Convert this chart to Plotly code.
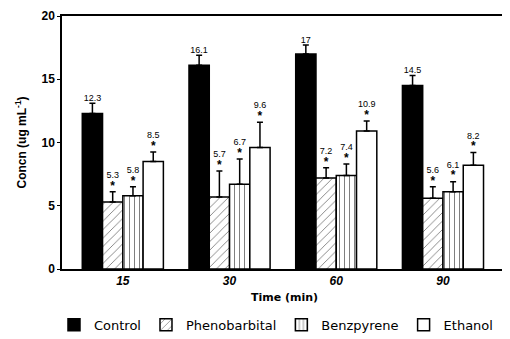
import plotly.graph_objects as go

times = ["15", "30", "60", "90"]
series = ["Control", "Phenobarbital", "Benzpyrene", "Ethanol"]
control = [12.3, 16.1, 17.0, 14.5]
phenobarbital = [5.3, 5.7, 7.2, 5.6]
benzpyrene = [5.8, 6.7, 7.4, 6.1]
ethanol = [8.5, 9.6, 10.9, 8.2]
control_err = [0.8, 0.8, 0.7, 0.8]
phenobarbital_err = [0.8, 2.05, 0.8, 0.9]
benzpyrene_err = [0.7, 2.0, 0.9, 0.8]
ethanol_err = [0.75, 2.0, 0.8, 1.0]
value_labels = {
    "Control": ["12.3", "16.1", "17", "14.5"],
    "Phenobarbital": ["5.3", "5.7", "7.2", "5.6"],
    "Benzpyrene": ["5.8", "6.7", "7.4", "6.1"],
    "Ethanol": ["8.5", "9.6", "10.9", "8.2"],
}
significant = {"Control": False, "Phenobarbital": True, "Benzpyrene": True, "Ethanol": True}

values = {"Control": control, "Phenobarbital": phenobarbital,
          "Benzpyrene": benzpyrene, "Ethanol": ethanol}
errors = {"Control": control_err, "Phenobarbital": phenobarbital_err,
          "Benzpyrene": benzpyrene_err, "Ethanol": ethanol_err}

styles = {
    "Control": dict(color="black", pattern=dict(shape="")),
    "Phenobarbital": dict(color="white", pattern=dict(shape="/", fgcolor="black", bgcolor="white", size=6, solidity=0.15)),
    "Benzpyrene": dict(color="white", pattern=dict(shape="|", fgcolor="black", bgcolor="white", size=5, solidity=0.2)),
    "Ethanol": dict(color="white", pattern=dict(shape="")),
}

fig = go.Figure()
for s in series:
    st = styles[s]
    fig.add_trace(go.Bar(
        name=s, x=times, y=values[s], offsetgroup=s,
        marker=dict(color=st["color"], pattern=st["pattern"], line=dict(color="black", width=1.5)),
        error_y=dict(type="data", array=errors[s], arrayminus=[0] * len(times), symmetric=False,
                     color="black", thickness=1.5, width=3),
    ))

star = '<br><span style="font-size:12px"><b>*</b></span>'
for s in series:
    tops = [v + e for v, e in zip(values[s], errors[s])]
    txt = [(lab + star) if significant[s] else lab for lab in value_labels[s]]
    fig.add_trace(go.Scatter(
        x=times, y=tops, offsetgroup=s, mode="text", text=txt,
        textposition="top center", showlegend=False, hoverinfo="skip",
        textfont=dict(family="Liberation Sans", size=9, color="black"),
    ))

# page has an 8px body margin, so the figure is 8px smaller and margins shifted by 8
fig.update_layout(
    width=502, height=331,
    margin=dict(l=54, r=3, t=8, b=70, autoexpand=False),
    paper_bgcolor="white", plot_bgcolor="white",
    barmode="group", bargap=0.24, bargroupgap=0,
    scattermode="group", scattergap=0.24,
    font=dict(family="Liberation Sans", color="black"),
    legend=dict(orientation="h", x=-0.018, xanchor="left", y=-0.221, yanchor="middle",
                font=dict(family="DejaVu Sans", size=13, color="black"),
                itemwidth=30, tracegroupgap=0),
    showlegend=True,
)
fig.update_xaxes(
    type="category", range=[-0.57, 3.6], automargin=False,
    showline=True, linecolor="black", linewidth=1.5, mirror=True,
    ticks="", tickfont=dict(size=12, weight="bold", style="italic"),
    title=dict(text="Time (min)", font=dict(family="DejaVu Sans", size=11, weight="bold"), standoff=6),
)
fig.update_yaxes(
    range=[0, 20], tickvals=[0, 5, 10, 15, 20], automargin=False,
    showline=True, linecolor="black", linewidth=1.5, mirror=True,
    showgrid=False, zeroline=False,
    ticks="outside", ticklen=3, tickcolor="black",
    tickfont=dict(size=12, weight="bold"),
    title=dict(text="Concn (ug mL<sup>-1</sup>)", font=dict(size=12, weight="bold"), standoff=12),
)

fig.write_html("out.html")
